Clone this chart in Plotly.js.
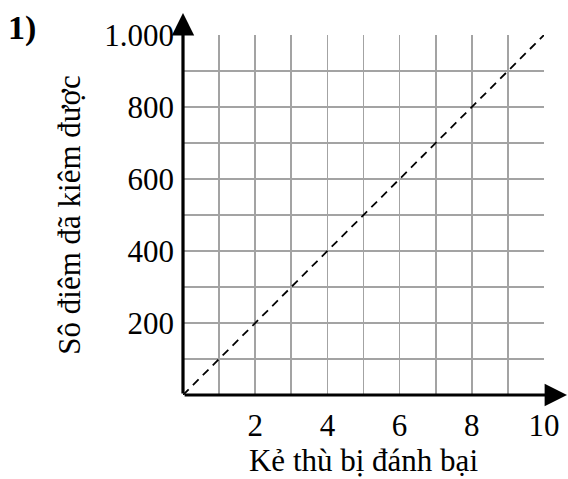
<!DOCTYPE html>
<html>
<head>
<meta charset="utf-8">
<script src="https://cdn.plot.ly/plotly-3.0.1.min.js"></script>
<style>html,body{margin:0;padding:0;background:#fff;}#chart{width:568px;height:479px;}</style>
</head>
<body>
<div id="chart"></div>
<script>
const lineX = [0, 10];
const lineY = [0, 1000];
const xTickVals = [2, 4, 6, 8, 10];
const xTickText = ['2', '4', '6', '8', '10'];
const yTickVals = [200, 400, 600, 800, 1000];
const yTickText = ['200', '400', '600', '800', '1.000'];
const xTitle = 'Kẻ thù bị đánh bại';
const yTitle = 'Sô điêm đã kiêm được';
const label = '1)';

const FONT = 'Liberation Serif, Times New Roman, serif';
const GRID = '#a3a3a3';

const trace = {
  x: lineX, y: lineY, type: 'scatter', mode: 'lines',
  line: {color: '#000', width: 1.8, dash: '8px,6px'},
  hoverinfo: 'skip', showlegend: false, cliponaxis: false
};

const layout = {
  width: 568, height: 479,
  margin: {l: 183, r: 24, t: 35, b: 84, pad: 0},
  paper_bgcolor: '#fff', plot_bgcolor: '#fff',
  font: {family: FONT, color: '#000'},
  showlegend: false,
  xaxis: {
    range: [0, 10], fixedrange: true,
    tickmode: 'array', tickvals: xTickVals, ticktext: xTickText,
    showgrid: true, gridcolor: GRID, gridwidth: 1.6,
    minor: {tickmode: 'linear', tick0: 0, dtick: 1, showgrid: true, gridcolor: GRID, gridwidth: 1.6, ticks: ''},
    zeroline: false, showline: false, ticks: '',
    ticklabelstandoff: 9,
    tickfont: {family: FONT, size: 31, color: '#000'},
    title: {text: xTitle, font: {family: FONT, size: 31, color: '#000'}, standoff: 2},
    automargin: false
  },
  yaxis: {
    range: [0, 1000], fixedrange: true,
    tickmode: 'array', tickvals: yTickVals, ticktext: yTickText,
    showgrid: true, gridcolor: GRID, gridwidth: 1.6,
    minor: {tickmode: 'linear', tick0: 0, dtick: 100, showgrid: true, gridcolor: GRID, gridwidth: 1.6, ticks: ''},
    zeroline: false, showline: false, ticks: '',
    ticklabelstandoff: 8,
    tickfont: {family: FONT, size: 31, color: '#000'},
    title: {text: yTitle, font: {family: FONT, size: 31, color: '#000'}, standoff: 14},
    automargin: false
  },
  annotations: [
    {xref: 'paper', yref: 'paper', x: 1.064, y: 0, ax: -384, ay: 0, axref: 'pixel', ayref: 'pixel',
     showarrow: true, arrowhead: 2, arrowsize: 1.4, arrowwidth: 3.2, arrowcolor: '#000', text: ''},
    {xref: 'paper', yref: 'paper', x: 0, y: 1.061, ax: 0, ay: 382, axref: 'pixel', ayref: 'pixel',
     showarrow: true, arrowhead: 2, arrowsize: 1.4, arrowwidth: 3.2, arrowcolor: '#000', text: ''},
    {xref: 'paper', yref: 'paper', x: -0.446, y: 1.02, xanchor: 'center', yanchor: 'middle',
     showarrow: false, text: '<b>' + label + '</b>', font: {family: FONT, size: 34, color: '#000'}}
  ]
};

Plotly.newPlot('chart', [trace], layout, {displayModeBar: false, staticPlot: true});
</script>
</body>
</html>
